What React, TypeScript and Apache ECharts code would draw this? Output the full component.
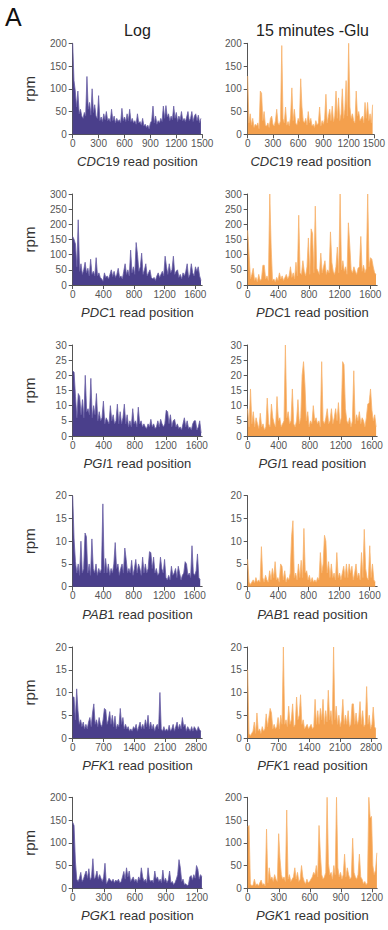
import React, { useEffect, useRef } from 'react';
import * as echarts from 'echarts';

const geneLetters = ['CDC', 'PDC', 'PGI', 'PAB', 'PFK', 'PGK'];
const geneNumbers = ['19', '1', '1', '1', '1', '1'];
const binSizes = [15, 18, 18, 18, 30, 13];
const xMaxes = [1500, 1690, 1670, 1700, 2940, 1251];
const xTickValues = [
  [0, 300, 600, 900, 1200, 1500],
  [0, 400, 800, 1200, 1600],
  [0, 400, 800, 1200, 1600],
  [0, 400, 800, 1200, 1600],
  [0, 700, 1400, 2100, 2800],
  [0, 300, 600, 900, 1200],
];
const yMaxes = [200, 300, 30, 20, 20, 200];
const yIntervals = [50, 50, 5, 5, 5, 50];
const columnTitles = ['Log', '15 minutes -Glu'];

const logCDC19 = [200, 118, 95, 60, 95, 45, 55, 40, 35, 48, 40, 127, 55, 70, 42, 100, 48, 65, 40, 35,
  85, 30, 38, 28, 45, 32, 50, 30, 35, 28, 55, 30, 40, 25, 35, 28, 32, 25, 57, 30,
  38, 28, 45, 30, 55, 28, 35, 25, 30, 22, 45, 25, 28, 20, 35, 18, 22, 15, 20, 12,
  25, 30, 62, 25, 40, 22, 30, 25, 35, 28, 62, 35, 63, 38, 45, 30, 40, 32, 62, 35,
  48, 28, 40, 32, 50, 30, 35, 28, 38, 50, 30, 35, 50, 28, 40, 45, 30, 42, 25, 35];
const gluCDC19 = [128, 25, 45, 20, 35, 15, 22, 18, 25, 12, 95, 90, 30, 50, 20, 18, 25, 15, 35, 40,
  22, 18, 30, 55, 25, 20, 30, 195, 35, 25, 60, 20, 28, 18, 40, 102, 30, 55, 25, 20,
  35, 28, 122, 60, 30, 25, 35, 20, 50, 25, 35, 18, 22, 15, 30, 20, 25, 60, 18, 30,
  22, 35, 88, 25, 40, 55, 30, 62, 28, 40, 95, 35, 80, 30, 45, 100, 35, 55, 118, 40,
  200, 60, 35, 45, 30, 25, 95, 40, 50, 30, 35, 40, 25, 70, 35, 70, 30, 45, 25, 65];
const logPDC1 = [160, 150, 135, 60, 215, 45, 70, 35, 50, 75, 40, 55, 30, 85, 35, 45, 30, 90, 30, 40,
  25, 20, 12, 40, 25, 30, 20, 35, 50, 28, 45, 25, 35, 55, 25, 30, 20, 45, 70, 35,
  50, 30, 115, 40, 60, 35, 140, 100, 45, 60, 105, 35, 50, 70, 30, 40, 50, 25, 20, 25,
  15, 30, 40, 25, 35, 45, 30, 95, 60, 35, 70, 40, 50, 95, 35, 45, 50, 25, 35, 20,
  40, 30, 45, 70, 25, 35, 70, 40, 30, 60, 45, 60, 30, 15];
const gluPDC1 = [180, 100, 20, 35, 55, 15, 25, 10, 35, 15, 20, 65, 65, 20, 30, 15, 300, 125, 15, 20,
  10, 25, 15, 40, 20, 30, 15, 25, 35, 20, 30, 60, 25, 40, 20, 75, 30, 230, 40, 35,
  80, 45, 30, 60, 155, 35, 185, 170, 40, 260, 55, 45, 35, 105, 40, 60, 80, 35, 50, 40,
  175, 75, 45, 35, 60, 125, 40, 300, 50, 80, 45, 60, 35, 205, 130, 50, 40, 60, 45, 35,
  55, 60, 160, 45, 65, 40, 55, 300, 60, 90, 85, 60, 40, 35];
const logPGI1 = [21.5, 21, 13, 6, 14, 13, 7, 12, 6, 20, 8, 9, 7, 19, 6, 10, 7, 14, 5, 8,
  5, 6, 11.5, 4, 6, 5, 4, 10, 5, 7, 4, 5, 10.5, 4, 8, 4, 6, 10.5, 4, 7,
  3, 5, 3, 9, 4, 5, 3, 9.5, 4, 5, 3, 4, 3, 2.5, 4, 3, 5.5, 3, 4, 2.5,
  3, 5, 3, 5.5, 4, 3, 4, 8.5, 8, 4, 7, 3, 5, 5.5, 3, 4, 2.5, 3, 2, 4,
  6, 3, 5, 2.5, 3, 2, 4, 5, 5, 2, 3, 5, 1];
const gluPGI1 = [9, 3, 15.5, 4, 8, 3, 6, 4, 2.5, 7.5, 3, 4, 2, 3, 12.5, 4, 3, 10.5, 6, 4,
  3, 13, 5, 6, 3, 4, 5, 30, 6, 8, 4, 5, 15.5, 4, 3, 5, 12, 4, 6, 20,
  24.5, 17, 5, 8, 3, 5, 4, 10, 5, 6, 4, 5, 3, 24.5, 5, 4, 6, 9, 4, 5,
  9, 4, 6, 9, 5, 11, 4, 6, 24.5, 23.5, 9, 5, 4, 6, 3, 5, 21.5, 4, 7, 5,
  8, 4, 6, 5, 3, 6, 10.5, 11, 15.5, 8.5, 5, 7, 3];
const logPAB1 = [20, 10.5, 5.5, 3, 5, 2.5, 10, 3, 4, 11.8, 11, 3, 5, 2.5, 10.5, 4, 3, 5, 2.5, 4,
  3, 4, 18.2, 3, 6.2, 3, 5, 2.5, 4, 3, 5, 9.7, 4, 5, 2.5, 4, 5, 3, 8.5, 6,
  3, 4, 3, 5.8, 2.5, 4, 6, 3, 5, 4, 2.5, 6.5, 3, 5, 3, 4, 7.7, 7.5, 4, 6.5,
  3, 4, 2.5, 3, 6.5, 4, 3, 6, 2, 1.5, 2.5, 1.5, 4.5, 2.5, 3, 4, 2, 4.5, 3, 1.5,
  2.5, 3, 5.5, 5, 2.5, 3, 2, 9, 3, 2.5, 3.5, 7.2, 2, 1.5];
const gluPAB1 = [6, 1, 0.5, 1, 1.5, 0.8, 2, 1, 1.5, 1, 8.8, 2, 1, 2.5, 1.5, 1, 3.5, 1.5, 4, 2,
  5.5, 1.5, 2, 1, 5, 4.5, 1.5, 3.5, 1, 2, 1.5, 3, 11, 14.5, 2, 3, 1.5, 5, 2, 5.8,
  2, 12.8, 3, 3.5, 1.5, 2.5, 1, 2, 1, 1.5, 1, 2, 1.5, 7.5, 3, 5, 11.3, 10, 3, 5.5,
  2, 5, 2, 3, 1.5, 7.5, 2, 3, 1.5, 3, 4.5, 2, 5, 2, 5, 3, 4.5, 1.5, 3, 5,
  2, 3, 1.5, 7.5, 2, 12.6, 4, 2, 1.5, 9, 2, 5, 1.5, 1];
const logPFK1 = [9, 9, 4, 10.8, 6, 3, 4, 2.5, 3.5, 2, 3, 2, 3.5, 4.5, 2.5, 5.5, 7.5, 3, 4, 2.5,
  4.5, 3, 2.5, 4, 6.5, 6.2, 3, 4, 5.8, 3, 5, 2.5, 4.8, 2, 3, 2.5, 6.5, 3, 4.5, 2,
  3, 2, 2.5, 1.5, 2, 1.5, 2.5, 2, 3, 1.5, 2.5, 3.5, 2, 3, 2, 4, 2.5, 5, 2, 3.5,
  2, 3, 1.5, 2.5, 3, 2, 10, 2, 1.5, 2.5, 1.5, 2, 1.5, 2.8, 1.5, 2, 3, 1.5, 2.5, 3.5,
  2, 3, 2, 4.5, 2.5, 3, 1.5, 2.5, 2, 1.5, 2.5, 1.5, 2.5, 2, 1.5, 2.5, 1.8, 1.5];
const gluPFK1 = [15, 1, 0.5, 1, 1.5, 3.5, 1, 5.5, 1.5, 2, 1, 2.5, 1.5, 2, 5.3, 2.5, 4.5, 6.5, 5.5, 2,
  3, 2, 2.5, 4.5, 2, 5, 3, 20, 3, 4, 2.5, 7, 3, 4, 7.5, 2.5, 3, 9, 4, 5,
  9.5, 3, 4, 2, 2.5, 3, 2, 2.5, 3, 2, 2.5, 8.5, 3, 6, 3, 6.5, 4, 8.5, 3, 6,
  3.5, 10.5, 4, 6, 3, 20, 4, 7, 3, 5, 2.5, 4, 8.5, 3, 5, 3, 6, 2.5, 3, 7.5,
  7.5, 3, 5.5, 3, 4, 8, 3, 6, 2.5, 3, 11.3, 3, 5, 2, 3, 6.8, 2.5, 2];
const logPGK1 = [145, 138, 60, 20, 15, 22, 35, 15, 20, 30, 38, 22, 43, 18, 25, 65, 20, 25, 38, 20,
  30, 22, 15, 25, 55, 10, 15, 22, 18, 15, 20, 12, 18, 15, 20, 12, 15, 25, 37, 20,
  45, 25, 38, 15, 20, 25, 15, 20, 12, 25, 18, 45, 25, 15, 20, 12, 45, 20, 15, 18,
  12, 38, 20, 25, 15, 20, 12, 40, 15, 22, 12, 18, 38, 12, 15, 8, 12, 20, 30, 63,
  45, 15, 20, 8, 10, 6, 8, 25, 28, 18, 30, 22, 50, 42, 20, 30, 25];
const gluPGK1 = [135, 138, 10, 5, 8, 20, 6, 10, 5, 12, 18, 8, 10, 5, 130, 12, 45, 20, 25, 15,
  30, 20, 15, 120, 65, 30, 20, 25, 15, 172, 20, 30, 15, 20, 25, 45, 20, 35, 15, 20,
  50, 25, 15, 10, 20, 12, 15, 20, 25, 35, 30, 50, 25, 138, 75, 30, 20, 25, 35, 200,
  55, 30, 35, 20, 50, 30, 200, 45, 25, 35, 20, 30, 75, 25, 45, 30, 20, 25, 110, 35,
  25, 20, 30, 75, 25, 20, 10, 15, 8, 12, 200, 155, 158, 50, 30, 40, 78];

const logSeries = [logCDC19, logPDC1, logPGI1, logPAB1, logPFK1, logPGK1];
const gluSeries = [gluCDC19, gluPDC1, gluPGI1, gluPAB1, gluPFK1, gluPGK1];

const FONT = '"Liberation Sans", Arial, Helvetica, sans-serif';
const AXIS_COLOR = '#555';
const LABEL_COLOR = '#555';
const PURPLE = '#4a3f8b';
const PURPLE_LINE = '#6a5fa6';
const ORANGE = '#f4a04d';
const ORANGE_LINE = '#f7b46f';

export default function App() {
  const ref = useRef<HTMLDivElement>(null);
  useEffect(() => {
    if (!ref.current) return;
    const chart = echarts.init(ref.current, undefined, { renderer: 'svg' });
    const rowTops = [43.3, 194, 345, 495.7, 647, 797.3];
    const colLefts = [72.7, 247.7];
    const gridW = 129.5;
    const gridH = 91;
    const grids: any[] = [];
    const xAxes: any[] = [];
    const yAxes: any[] = [];
    const series: any[] = [];
    const plain = (v: number) => String(v);
    for (let r = 0; r < 6; r++) {
      for (let c = 0; c < 2; c++) {
        const k = grids.length;
        grids.push({ left: colLefts[c], top: rowTops[r], width: gridW, height: gridH });
        xAxes.push({
          type: 'value',
          gridIndex: k,
          min: 0,
          max: xMaxes[r],
          splitLine: { show: false },
          axisLine: { show: true, lineStyle: { color: AXIS_COLOR, width: 1 } },
          axisTick: { show: true, length: 4, customValues: xTickValues[r], lineStyle: { color: AXIS_COLOR } },
          axisLabel: {
            customValues: xTickValues[r],
            formatter: plain,
            color: LABEL_COLOR,
            fontSize: 10,
            fontFamily: FONT,
            margin: 4,
          },
          name: `{i|${geneLetters[r]}}{n|${geneNumbers[r]} read position}`,
          nameLocation: 'middle',
          nameGap: 21,
          nameTextStyle: {
            rich: {
              i: { fontStyle: 'italic', fontSize: 13, fontFamily: FONT, color: '#333' },
              n: { fontSize: 13, fontFamily: FONT, color: '#333' },
            },
          },
        });
        yAxes.push({
          type: 'value',
          gridIndex: k,
          min: 0,
          max: yMaxes[r],
          interval: yIntervals[r],
          splitLine: { show: false },
          axisLine: { show: true, lineStyle: { color: AXIS_COLOR, width: 1 } },
          axisTick: { show: true, length: 4, lineStyle: { color: AXIS_COLOR } },
          axisLabel: { formatter: plain, color: LABEL_COLOR, fontSize: 10, fontFamily: FONT, margin: 6 },
          name: c === 0 ? 'rpm' : '',
          nameLocation: 'middle',
          nameRotate: 90,
          nameGap: 36,
          nameTextStyle: { fontSize: 15, fontFamily: FONT, color: '#333' },
        });
        const vals = c === 0 ? logSeries[r] : gluSeries[r];
        const bin = binSizes[r];
        series.push({
          type: 'line',
          xAxisIndex: k,
          yAxisIndex: k,
          data: vals.map((v, i) => [i * bin, v]),
          showSymbol: false,
          symbol: 'none',
          clip: true,
          lineStyle: { color: c === 0 ? PURPLE_LINE : ORANGE_LINE, width: 0.8 },
          areaStyle: { color: c === 0 ? PURPLE : ORANGE, opacity: 1 },
          silent: true,
        });
      }
    }
    chart.setOption({
      animation: false,
      grid: grids,
      xAxis: xAxes,
      yAxis: yAxes,
      series,
      graphic: [
        {
          type: 'text',
          left: 5,
          top: 4,
          style: { text: 'A', fontSize: 25, fontFamily: FONT, fill: '#111' },
        },
        {
          type: 'text',
          x: colLefts[0] + gridW / 2,
          y: 30,
          style: {
            text: columnTitles[0],
            fontSize: 16,
            fontFamily: FONT,
            fill: '#222',
            align: 'center',
            verticalAlign: 'middle',
          },
        },
        {
          type: 'text',
          x: colLefts[1] + gridW / 2,
          y: 30,
          style: {
            text: columnTitles[1],
            fontSize: 16,
            fontFamily: FONT,
            fill: '#222',
            align: 'center',
            verticalAlign: 'middle',
          },
        },
      ],
    });
    return () => chart.dispose();
  }, []);
  return (
    <div
      ref={ref}
      style={{ position: 'absolute', left: 0, top: 0, width: 388, height: 930, background: '#fff' }}
    />
  );
}
